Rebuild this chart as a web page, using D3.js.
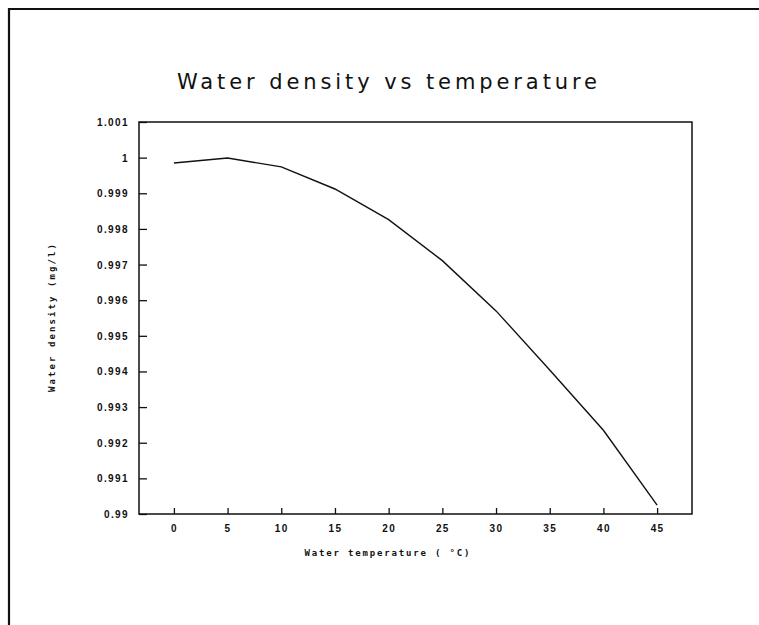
<!DOCTYPE html>
<html>
<head>
<meta charset="utf-8">
<script src="https://cdnjs.cloudflare.com/ajax/libs/d3/7.8.5/d3.min.js"></script>
<style>
  body { margin: 0; background: #fff; }
  svg { display: block; }
</style>
</head>
<body>
<div id="viz"></div>
<script type="text/javascript">

// values
var temperature = [0, 5, 10, 15, 20, 25, 30, 35, 40, 45];
var density = [0.99985, 0.99999, 0.99974, 0.99912, 0.99826, 0.99711, 0.99570, 0.99404, 0.99235, 0.99025];
var xTicks = [0, 5, 10, 15, 20, 25, 30, 35, 40, 45];
var yTicks = [0.99, 0.991, 0.992, 0.993, 0.994, 0.995, 0.996, 0.997, 0.998, 0.999, 1, 1.001];

var width = 759;
var height = 625;
var margin = {top: 122, right: 67, bottom: 111, left: 139};

var x = d3.scaleLinear()
  .domain([-3.25, 48.25])
  .range([margin.left, width - margin.right]);

var y = d3.scaleLinear()
  .domain([0.99, 1.001])
  .range([height - margin.bottom, margin.top]);

var svg = d3.select("#viz")
  .append("svg")
  .attr("width", width)
  .attr("height", height)
  .style("font-family", "'DejaVu Sans Mono', monospace");

// outer page frame (only top and left edges are visible in the scan)
svg.append("path")
  .attr("d", "M9,625 V9 H759")
  .attr("fill", "none")
  .attr("stroke", "#111")
  .attr("stroke-width", 2.2);

svg.append("text")
  .attr("x", 387)
  .attr("y", 89)
  .attr("text-anchor", "middle")
  .attr("textLength", 420)
  .attr("lengthAdjust", "spacing")
  .style("font-family", "'DejaVu Sans', sans-serif")
  .style("font-size", "21px")
  .style("fill", "#111")
  .text("Water density vs temperature");

// axes, ticks pointing into the plot
var xAxis = d3.axisBottom(x)
  .tickValues(xTicks)
  .tickSizeInner(-6)
  .tickSizeOuter(0)
  .tickPadding(11)
  .tickFormat(d3.format("d"));

var yAxis = d3.axisLeft(y)
  .tickValues(yTicks)
  .tickSizeInner(-8)
  .tickSizeOuter(0)
  .tickPadding(10)
  .tickFormat(d => d === 1 ? "1" : d3.format(".3~f")(d));

var gx = svg.append("g")
  .attr("transform", "translate(0," + (height - margin.bottom) + ")")
  .call(xAxis);

var gy = svg.append("g")
  .attr("transform", "translate(" + margin.left + ",0)")
  .call(yAxis);

[gx, gy].forEach(g => {
  g.select(".domain").remove();
  g.selectAll(".tick line").attr("stroke", "#111").attr("stroke-width", 1.3);
  g.selectAll(".tick text")
    .attr("fill", "#111")
    .style("font-size", "10px")
    .style("font-weight", "bold")
    .style("letter-spacing", "1.4px");
});

gy.selectAll(".tick text").attr("dy", "0.35em");

// plot frame
svg.append("rect")
  .attr("x", x.range()[0])
  .attr("y", y.range()[1])
  .attr("width", x.range()[1] - x.range()[0])
  .attr("height", y.range()[0] - y.range()[1])
  .attr("fill", "none")
  .attr("stroke", "#111")
  .attr("stroke-width", 1.5);

var line = d3.line()
  .x((d, i) => x(temperature[i]))
  .y(d => y(d));

svg.append("path")
  .datum(density)
  .attr("d", line)
  .attr("fill", "none")
  .attr("stroke", "#111")
  .attr("stroke-width", 1.4);

svg.append("text")
  .attr("x", 387)
  .attr("y", 556)
  .attr("text-anchor", "middle")
  .attr("textLength", 165)
  .attr("lengthAdjust", "spacing")
  .style("font-size", "9px")
  .style("font-weight", "bold")
  .style("fill", "#111")
  .text("Water temperature ( °C)");

svg.append("text")
  .attr("transform", "translate(55,318) rotate(-90)")
  .attr("text-anchor", "middle")
  .attr("textLength", 148)
  .attr("lengthAdjust", "spacing")
  .style("font-size", "9px")
  .style("font-weight", "bold")
  .style("fill", "#111")
  .text("Water density (mg/l)");

</script>
</body>
</html>
